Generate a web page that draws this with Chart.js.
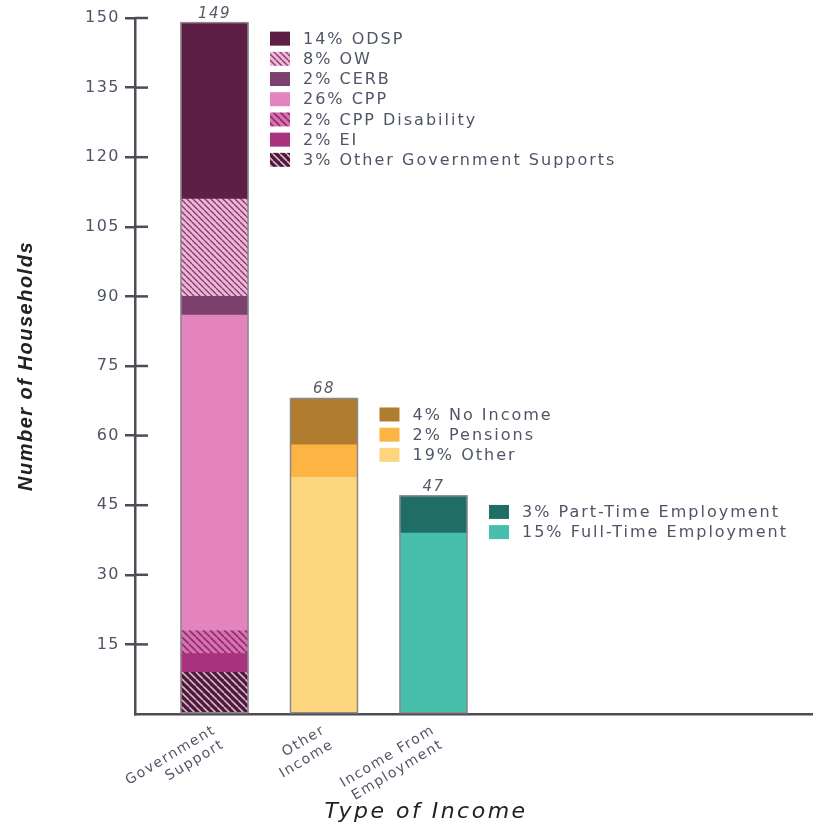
<!DOCTYPE html>
<html>
<head>
<meta charset="utf-8">
<script src="https://cdn.jsdelivr.net/npm/chart.js@4.4.1/dist/chart.umd.min.js"></script>
<style>
  html, body { margin: 0; padding: 0; background: #fff; }
  #wrap { width: 815px; height: 825px; position: relative; }
</style>
</head>
<body>
<div id="wrap"><canvas id="incomeChart"></canvas></div>
<script>
const categories = [["Government", "Support"], ["Other", "Income"], ["Income From", "Employment"]];

// stacked segments per category, listed bottom-up
const govLabels = ["3% Other Government Supports", "2% EI", "2% CPP Disability", "26% CPP", "2% CERB", "8% OW", "14% ODSP"];
const govValues = [9, 4, 5, 68, 4, 21, 38];
const otherLabels = ["19% Other", "2% Pensions", "4% No Income"];
const otherValues = [51, 7, 10];
const employLabels = ["15% Full-Time Employment", "3% Part-Time Employment"];
const employValues = [39, 8];

const yMax = 150;
const yStep = 15;

const AXIS = "#4d4d55";
const TEXT = "#4f5566";
const FONT = "'DejaVu Sans', sans-serif";

const canvas = document.getElementById("incomeChart");
const ctx2d = canvas.getContext("2d");

// diagonal "\" stripes on a solid fill
function hatch(bg, line, size, width) {
  const tile = document.createElement("canvas");
  tile.width = tile.height = size;
  const g = tile.getContext("2d");
  g.fillStyle = bg;
  g.fillRect(0, 0, size, size);
  g.strokeStyle = line;
  g.lineWidth = width;
  g.beginPath();
  for (const o of [-size, 0, size]) {
    g.moveTo(o, 0);
    g.lineTo(o + size, size);
  }
  g.stroke();
  return ctx2d.createPattern(tile, "repeat");
}

const govColors = [
  hatch("#4e1a3c", "#d8b4c8", 7, 1.6),
  "#a8327e",
  hatch("#d970b4", "#8a2e66", 7, 1.6),
  "#e484be",
  "#7c416f",
  hatch("#f2b3d8", "#7a3d66", 6, 1.3),
  "#5d1f44",
];
const otherColors = ["#fed57f", "#fdb442", "#b07d2e"];
const employColors = ["#48bead", "#1e6e66"];

function buildDatasets(group, labels, values, colors) {
  return labels.map((label, i) => ({
    label,
    group,
    data: [{ x: group, y: values[i] }],
    backgroundColor: colors[i],
    borderWidth: 0,
    barThickness: 67,
  }));
}

const datasets = [
  ...buildDatasets(0, govLabels, govValues, govColors),
  ...buildDatasets(1, otherLabels, otherValues, otherColors),
  ...buildDatasets(2, employLabels, employValues, employColors),
];

// wider tracking for all axis text
const tracking = {
  id: "tracking",
  beforeDraw(chart) {
    chart.ctx.letterSpacing = "1.5px";
  },
};

// outline, total and side legend for each stacked bar
const barDecor = {
  id: "barDecor",
  afterDatasetsDraw(chart) {
    const { ctx } = chart;
    const groups = [];
    chart.data.datasets.forEach((ds, i) => {
      const bar = chart.getDatasetMeta(i).data[0];
      if (!groups[ds.group]) {
        groups[ds.group] = { items: [], top: Infinity, base: 0, x: bar.x, w: bar.width, total: 0 };
      }
      const g = groups[ds.group];
      g.items.push({ label: ds.label, color: ds.backgroundColor });
      g.top = Math.min(g.top, bar.y);
      g.base = Math.max(g.base, bar.base);
      g.total += ds.data[0].y;
    });

    ctx.save();
    groups.forEach((g) => {
      ctx.strokeStyle = "#8a8a8a";
      ctx.lineWidth = 1.5;
      ctx.strokeRect(g.x - g.w / 2, g.top, g.w, g.base - g.top);

      ctx.letterSpacing = "1.5px";
      ctx.font = `italic 15px ${FONT}`;
      ctx.fillStyle = "#555a66";
      ctx.textAlign = "center";
      ctx.textBaseline = "alphabetic";
      ctx.fillText(String(g.total), g.x, g.top - 5);

      const left = g.x + g.w / 2 + 22;
      ctx.letterSpacing = "2px";
      ctx.font = `16px ${FONT}`;
      ctx.textAlign = "left";
      ctx.textBaseline = "middle";
      g.items.slice().reverse().forEach((item, k) => {
        const cy = g.top + 16 + k * 20.2;
        ctx.fillStyle = item.color;
        ctx.fillRect(left, cy - 7, 20, 14);
        ctx.fillStyle = TEXT;
        ctx.fillText(item.label, left + 33, cy + 1);
      });
    });
    ctx.restore();
  },
  afterDraw(chart) {
    const { ctx, chartArea } = chart;
    const y = chart.scales.y;
    ctx.save();
    // tick marks cross the axis line
    ctx.strokeStyle = AXIS;
    ctx.lineWidth = 2.5;
    y.ticks.forEach((t) => {
      if (t.value === 0) return;
      const py = y.getPixelForValue(t.value);
      ctx.beginPath();
      ctx.moveTo(chartArea.left, py);
      ctx.lineTo(chartArea.left + 13, py);
      ctx.stroke();
    });

    ctx.letterSpacing = "2.5px";
    ctx.font = `italic 22px ${FONT}`;
    ctx.fillStyle = "#222";
    ctx.textAlign = "center";
    ctx.textBaseline = "alphabetic";
    ctx.fillText("Type of Income", 426, 818);
    ctx.restore();
  },
};

new Chart(canvas, {
  type: "bar",
  data: { datasets },
  plugins: [tracking, barDecor],
  options: {
    responsive: true,
    maintainAspectRatio: false,
    animation: false,
    layout: { padding: { top: 18, right: 3, left: 0, bottom: 0 } },
    plugins: {
      legend: { display: false },
      tooltip: { enabled: false },
    },
    scales: {
      x: {
        type: "linear",
        stacked: true,
        offset: false,
        min: -0.726,
        max: 5.457,
        afterBuildTicks: (scale) => {
          scale.ticks = categories.map((_, i) => ({ value: i }));
        },
        afterFit: (scale) => {
          scale.height = 111;
        },
        grid: { display: false },
        border: { color: AXIS, width: 2.5 },
        ticks: {
          autoSkip: false,
          minRotation: 31,
          maxRotation: 31,
          padding: 0,
          color: TEXT,
          font: { family: FONT, size: 14, lineHeight: 1.2 },
          callback: (v) => categories[v],
        },
      },
      y: {
        stacked: true,
        min: 0,
        max: yMax,
        afterFit: (scale) => {
          scale.width = 135;
        },
        grid: {
          drawOnChartArea: false,
          tickLength: 10,
          lineWidth: 2.5,
          color: (c) => (c.tick && c.tick.value === 0 ? "rgba(0,0,0,0)" : AXIS),
        },
        border: { color: AXIS, width: 2.5 },
        ticks: {
          stepSize: yStep,
          padding: 5,
          color: TEXT,
          font: { family: FONT, size: 16 },
          callback: (v) => (v === 0 ? "" : v),
        },
        title: {
          display: true,
          text: "Number of Households",
          color: "#222",
          font: { family: "'Liberation Sans', sans-serif", size: 20, style: "italic", weight: "bold" },
          padding: { top: 14, bottom: 0 },
        },
      },
    },
  },
});
</script>
</body>
</html>
